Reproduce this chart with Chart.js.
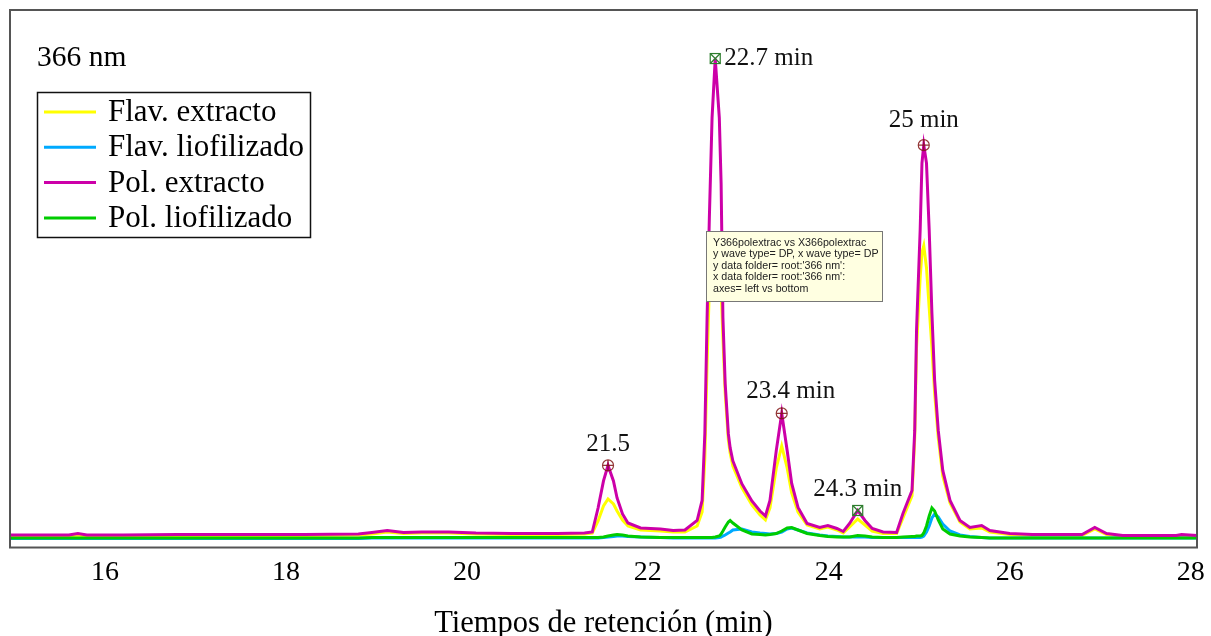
<!DOCTYPE html>
<html lang="es">
<head>
<meta charset="UTF-8">
<title>Cromatograma 366 nm</title>
<script src="https://cdn.jsdelivr.net/npm/chart.js"></script>
<style>
  body { margin: 0; background: #fff; }
  canvas { display: block; }
</style>
</head>
<body>
<canvas id="chrom" width="1211" height="636"></canvas>
<script>
// tiempos de retención (min)
const tiempos = [
  14.95, 15.3, 15.6, 15.7, 15.8, 16.2, 16.8, 17.5, 18.2, 18.8,
  18.95, 19.12, 19.3, 19.5, 19.8, 20.1, 20.5, 21.0, 21.3, 21.386,
  21.45, 21.51, 21.56, 21.62, 21.66, 21.72, 21.78, 21.92, 22.14, 22.28,
  22.41, 22.545, 22.60, 22.63, 22.655, 22.68, 22.71, 22.745, 22.79, 22.81,
  22.83, 22.855, 22.89, 22.91, 22.94, 23.04, 23.15, 23.24, 23.30, 23.35,
  23.42, 23.48, 23.54, 23.59, 23.66, 23.76, 23.90, 23.99, 24.09, 24.16,
  24.23, 24.32, 24.40, 24.48, 24.60, 24.75, 24.82, 24.92, 24.95, 24.97,
  25.01, 25.03, 25.05, 25.08, 25.11, 25.14, 25.17, 25.21, 25.26, 25.34,
  25.45, 25.56, 25.69, 25.78, 26.0, 26.25, 26.8, 26.94, 27.07, 27.25,
  27.84, 27.9, 28.07
];

// absorbancia (unidades relativas)
const flavExtracto = [
  2, 2, 2, 3, 2, 2, 2.5, 2.5, 2.5, 3,
  4, 6, 4.5, 5, 5, 4, 3.5, 3.5, 4, 5,
  17, 32, 39, 34, 27, 18, 12, 8, 7, 6,
  6, 12, 26, 80, 175, 250, 280, 285, 270, 250,
  200, 145, 98, 85, 72, 50, 33, 23, 18, 30,
  70, 92, 70, 45, 26, 13, 9, 11, 8, 5,
  11, 19, 13, 7, 4.5, 4.5, 20, 42, 100, 190,
  260, 285, 292, 270, 230, 190, 145, 100, 62, 35,
  16, 9, 10, 6, 3.5, 2.5, 2.5, 9, 3.5, 2,
  2, 2.5, 2
];
const flavLiofilizado = [
  -0.5, -0.5, -0.5, -0.5, -0.5, -0.5, -0.5, -0.5, -0.5, -0.5,
  0, 0, 0, 0, 0, 0, 0, 0, 0, 0,
  0, 0.5, 1, 1.5, 2, 2, 1.5, 1, 0.5, 0,
  0, 0, 0, 0, 0, 0, 0, 0, 0.5, 1,
  2, 3, 5, 6, 8, 9, 6, 5, 4.5, 4,
  4.5, 6, 9, 10, 8, 5, 3, 2, 1.5, 1,
  1, 1, 1, 0.5, 0.5, 0.5, 0.5, 0.5, 0.5, 0.5,
  0.5, 1, 2, 6, 12, 20, 24, 21, 14, 7,
  3, 1.5, 0.5, 0, 0, 0, 0, 0, 0, 0,
  0, 0, 0
];
const polExtracto = [
  3, 3, 3, 4.5, 3, 3, 3.5, 3.5, 3.5, 4,
  5.5, 7.5, 5.5, 6, 6, 5, 4.5, 4.5, 5, 6,
  30, 57, 72.5, 57, 40, 24, 15, 10, 9, 7.5,
  8, 17.5, 37.5, 104, 220, 320, 420, 479, 420, 354,
  220, 154, 104, 90, 77, 54, 37, 27, 22, 37.5,
  87.5, 124.5, 87.5, 54.5, 30.5, 14.5, 10.5, 12.5, 9.5, 6.5,
  14.5, 27.5, 17.5, 9.5, 6, 5.5, 24.5, 47.5, 107.5, 207.5,
  307.5, 374.5, 392.5, 374.5, 307.5, 224.5, 157.5, 107.5, 67.5, 37.5,
  17.5, 10.5, 12.5, 7.5, 4.5, 3.5, 3.5, 10.5, 4.5, 2.5,
  2.5, 3.5, 2.5
];
const polLiofilizado = [
  0, 0, 0, 0, 0, 0, 0, 0, 0, 0,
  0.5, 0.5, 0.5, 0.5, 0.5, 0.5, 0.5, 0.5, 0.5, 0.5,
  0.5, 1, 2, 3, 3.5, 3, 2, 1, 0.5, 0.5,
  0.5, 0.5, 0.5, 0.5, 0.5, 0.5, 0.5, 1, 2, 4,
  7, 11, 16, 17.5, 15, 8, 4, 3.5, 3, 3.5,
  4.5, 7, 10, 10.5, 8, 4.5, 2.5, 1.5, 1, 1,
  1, 2.5, 2, 1, 0.5, 0.5, 1, 1.5, 1.5, 2,
  2, 2.5, 5, 12, 22, 30, 27, 18, 9, 4,
  2, 1, 0.5, 0, 0, 0, 0, 0, 0, 0,
  0, 0, 0
];

const seriesLabels = ['Flav. extracto', 'Flav. liofilizado', 'Pol. extracto', 'Pol. liofilizado'];
const xTicks = [16, 18, 20, 22, 24, 26, 28];
const tituloX = 'Tiempos de retención (min)';
const longitudOnda = '366 nm';

// picos marcados sobre Pol. extracto
const peakTimes = [21.56, 22.745, 23.48, 24.32, 25.05];
const peakLabels = ['21.5', '22.7 min', '23.4 min', '24.3 min', '25 min'];

const infoLines = [
  "Y366polextrac vs X366polextrac",
  "y wave type= DP, x wave type= DP",
  "y data folder= root:'366 nm':",
  "x data folder= root:'366 nm':",
  "axes= left vs bottom"
];

function toPoints(values) {
  return tiempos.map((t, i) => ({ x: t, y: values[i] }));
}

// marker style and label offset for each peak
const peakStyle = [
  { mark: 'circle', dx: 0, dy: -21, align: 'center' },
  { mark: 'square', dx: 9, dy: 0, align: 'left' },
  { mark: 'circle', dx: 9, dy: -22, align: 'center' },
  { mark: 'square', dx: 0, dy: -21, align: 'center' },
  { mark: 'circle', dx: 0, dy: -25, align: 'center' }
];

const decor = {
  id: 'decor',
  afterDatasetsDraw(chart) {
    const { ctx, chartArea: a, scales } = chart;
    ctx.save();

    // frame round the plot
    ctx.strokeStyle = '#555';
    ctx.lineWidth = 2;
    ctx.strokeRect(a.left, a.top, a.right - a.left, a.bottom - a.top);

    ctx.fillStyle = '#000';
    ctx.textBaseline = 'middle';
    ctx.textAlign = 'left';
    ctx.font = '29.5px "Liberation Serif"';
    ctx.fillText(longitudOnda, 37, 58);

    // legend box
    ctx.lineWidth = 1.5;
    ctx.strokeStyle = '#111';
    ctx.strokeRect(37.5, 92.5, 273, 145);
    ctx.font = '31px "Liberation Serif"';
    chart.data.datasets.forEach((ds, i) => {
      const yy = 112 + i * 35.3;
      ctx.strokeStyle = ds.borderColor;
      ctx.lineWidth = 3;
      ctx.beginPath();
      ctx.moveTo(44, yy);
      ctx.lineTo(96, yy);
      ctx.stroke();
      ctx.fillStyle = '#000';
      ctx.fillText(ds.label, 108, yy + 1);
    });

    // peak markers and labels
    ctx.font = '25px "Liberation Serif"';
    peakTimes.forEach((t, i) => {
      let k = 0;
      tiempos.forEach((v, j) => { if (Math.abs(v - t) < Math.abs(tiempos[k] - t)) k = j; });
      const px = scales.x.getPixelForValue(tiempos[k]);
      const py = scales.y.getPixelForValue(polExtracto[k]);
      const st = peakStyle[i];
      ctx.lineWidth = 1.2;
      if (st.mark === 'circle') {
        ctx.strokeStyle = 'rgba(128,20,20,0.85)';
        ctx.beginPath();
        ctx.arc(px, py, 5.5, 0, Math.PI * 2);
        ctx.moveTo(px - 5.5, py); ctx.lineTo(px + 5.5, py);
        ctx.moveTo(px, py - 5.5); ctx.lineTo(px, py + 5.5);
        ctx.stroke();
      } else {
        ctx.strokeStyle = '#2d7d2d';
        ctx.strokeRect(px - 5, py - 5, 10, 10);
        ctx.beginPath();
        ctx.moveTo(px - 5, py - 5); ctx.lineTo(px + 5, py + 5);
        ctx.moveTo(px + 5, py - 5); ctx.lineTo(px - 5, py + 5);
        ctx.stroke();
      }
      ctx.fillStyle = '#111';
      ctx.textAlign = st.align;
      ctx.fillText(peakLabels[i], px + st.dx, py + st.dy);
    });

    // info box left by the graph program
    ctx.fillStyle = '#ffffe1';
    ctx.fillRect(706, 231, 176, 70);
    ctx.strokeStyle = '#777';
    ctx.lineWidth = 1;
    ctx.strokeRect(706.5, 231.5, 176, 70);
    ctx.fillStyle = '#222';
    ctx.textAlign = 'left';
    ctx.font = '10.7px "Liberation Sans"';
    infoLines.forEach((s, i) => ctx.fillText(s, 713, 243 + i * 11.5));

    ctx.restore();
  }
};

Chart.defaults.font.family = '"Liberation Serif", "Times New Roman", serif';

new Chart(document.getElementById('chrom'), {
  type: 'line',
  data: {
    datasets: [
      { label: seriesLabels[0], data: toPoints(flavExtracto), borderColor: '#ffff00', order: 4 },
      { label: seriesLabels[1], data: toPoints(flavLiofilizado), borderColor: '#00aaff', order: 3 },
      { label: seriesLabels[2], data: toPoints(polExtracto), borderColor: '#cc00a8', order: 1 },
      { label: seriesLabels[3], data: toPoints(polLiofilizado), borderColor: '#00cc00', order: 2 }
    ]
  },
  options: {
    responsive: false,
    animation: false,
    devicePixelRatio: 1,
    layout: { padding: { left: 10, right: 14, top: 10, bottom: 0 } },
    elements: {
      point: { radius: 0 },
      line: { borderWidth: 3, tension: 0, fill: false }
    },
    scales: {
      x: {
        type: 'linear',
        min: 14.95,
        max: 28.07,
        grid: { display: false, drawTicks: false },
        border: { display: false },
        afterBuildTicks: s => { s.ticks = xTicks.map(v => ({ value: v })); },
        afterFit: s => { s.paddingLeft = 0; s.paddingRight = 0; },
        ticks: {
          color: '#000',
          font: { size: 28, lineHeight: 1 },
          padding: 11,
          maxRotation: 0,
          autoSkip: false
        },
        title: {
          display: true,
          text: tituloX,
          color: '#000',
          font: { size: 30.5, lineHeight: 0.77 },
          padding: { top: 15, bottom: 0 }
        }
      },
      y: {
        display: false,
        min: -9.5,
        max: 527.5
      }
    },
    plugins: {
      legend: { display: false },
      tooltip: { enabled: false }
    }
  },
  plugins: [decor]
});
</script>
</body>
</html>
